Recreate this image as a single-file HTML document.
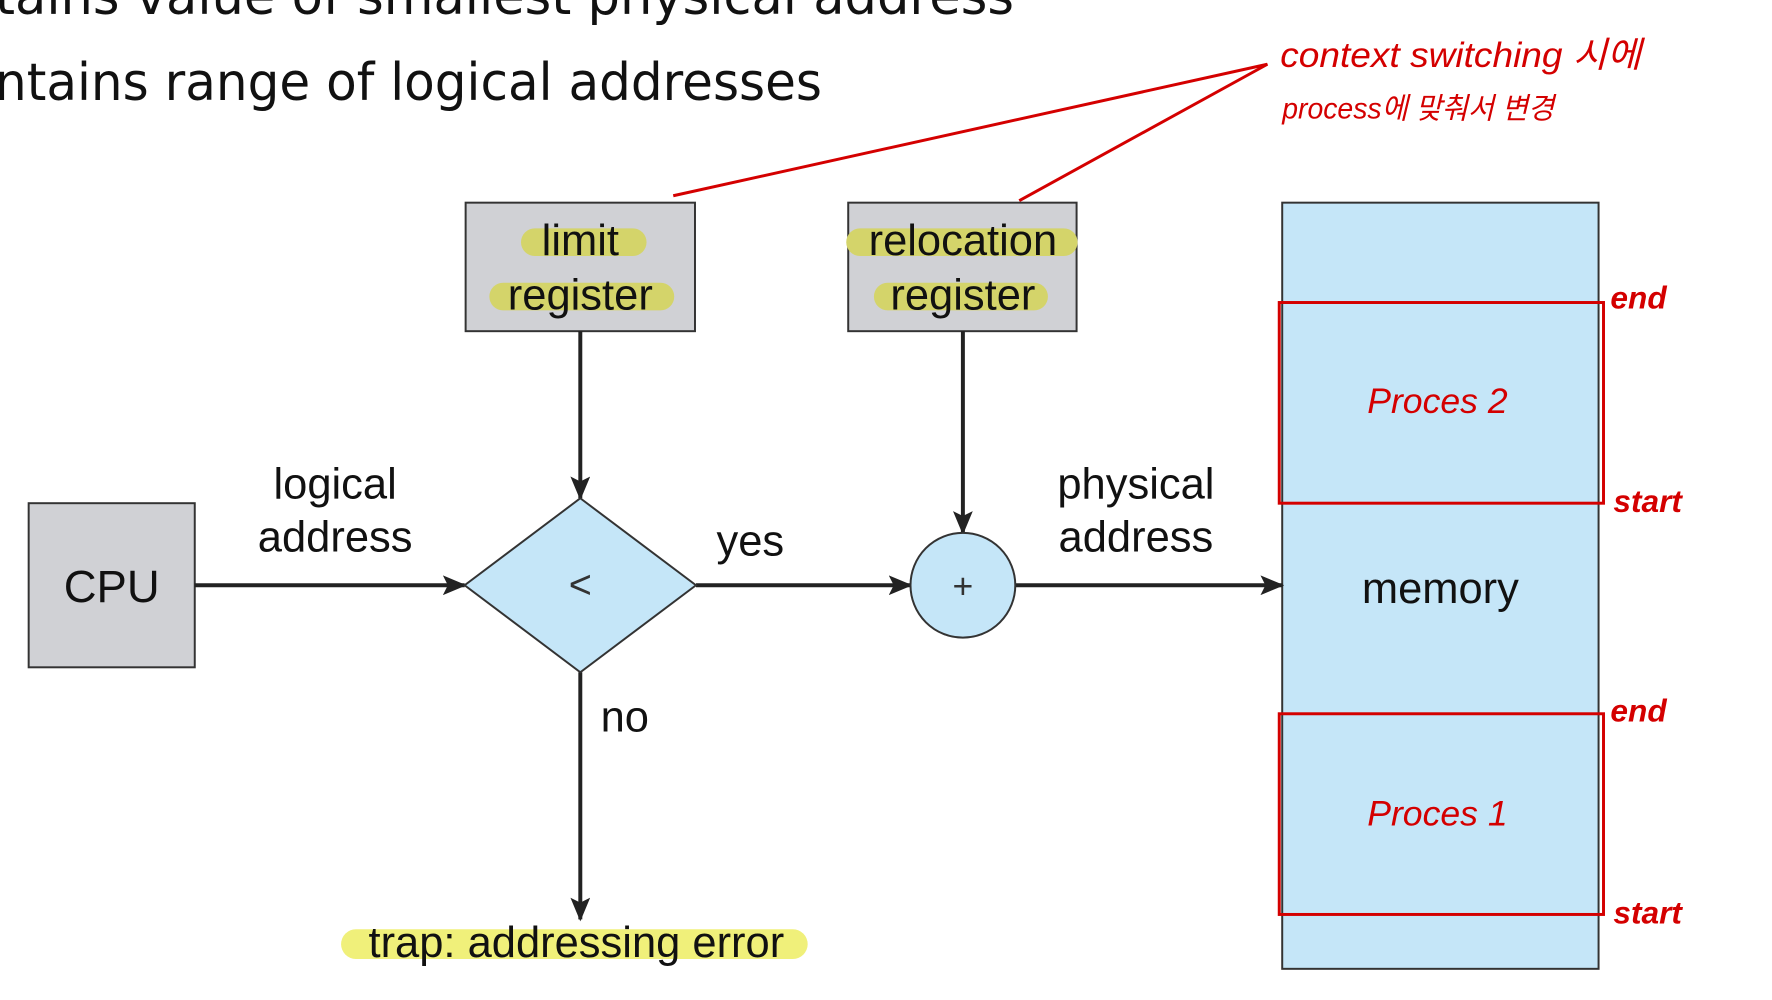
<!DOCTYPE html>
<html><head><meta charset="utf-8"><style>
html,body{margin:0;padding:0;background:#fff;}
svg{display:block}
</style></head><body>
<svg width="1772" height="1000" viewBox="0 0 1772 1000" xmlns="http://www.w3.org/2000/svg" font-family="Liberation Sans, sans-serif">
<defs>
<marker id="ah" markerWidth="24" markerHeight="20" refX="22" refY="10" orient="auto" markerUnits="userSpaceOnUse">
<path d="M0,0 L24,10 L0,20 L5,10 Z" fill="#222"/>
</marker>
</defs>
<!-- title text -->
<text x="-5" y="14" font-size="52" fill="#111" font-family="DejaVu Sans, sans-serif" textLength="1019" lengthAdjust="spacingAndGlyphs">tains value of smallest physical address</text>
<text x="-5" y="100" font-size="52" fill="#111" font-family="DejaVu Sans, sans-serif" textLength="827" lengthAdjust="spacingAndGlyphs">ntains range of logical addresses</text>

<g transform="scale(0.9886)">
<!-- red annotation lines -->
<polyline points="681,198 1282,65 1031,203" fill="none" stroke="#d40000" stroke-width="3"/>
<text x="1295" y="68" font-size="36" fill="#d40000" font-family="Liberation Sans, Noto Sans CJK KR, sans-serif" font-style="italic" textLength="365" lengthAdjust="spacingAndGlyphs">context switching 시에</text>
<text x="1297" y="120" font-size="30" fill="#d40000" font-family="Liberation Sans, Noto Sans CJK KR, sans-serif" font-style="italic" textLength="275" lengthAdjust="spacingAndGlyphs">process에 맞춰서 변경</text>

<!-- memory -->
<rect x="1297" y="205" width="320" height="775" fill="#c5e6f8" stroke="#333" stroke-width="2"/>
<text x="1457" y="610" font-size="44" text-anchor="middle" fill="#111">memory</text>
<rect x="1294" y="306" width="328" height="203" fill="none" stroke="#d40000" stroke-width="3"/>
<rect x="1294" y="722" width="328" height="203" fill="none" stroke="#d40000" stroke-width="3"/>
<text x="1383" y="418" font-size="36" fill="#d40000" font-style="italic">Proces 2</text>
<text x="1383" y="835" font-size="36" fill="#d40000" font-style="italic">Proces 1</text>
<g font-size="32" fill="#d40000" font-style="italic" font-weight="bold">
<text x="1629" y="312">end</text>
<text x="1632" y="518">start</text>
<text x="1629" y="730">end</text>
<text x="1632" y="934">start</text>
</g>

<!-- registers -->
<rect x="471" y="205" width="232" height="130" fill="#d0d1d5" stroke="#333" stroke-width="2"/>
<rect x="527" y="231" width="127" height="28" rx="14" fill="#d4d46a"/>
<rect x="495" y="286" width="187" height="28" rx="14" fill="#d4d46a"/>
<text x="587" y="258" font-size="44" text-anchor="middle" fill="#111">limit</text>
<text x="587" y="313" font-size="44" text-anchor="middle" fill="#111">register</text>

<rect x="858" y="205" width="231" height="130" fill="#d0d1d5" stroke="#333" stroke-width="2"/>
<rect x="856" y="231" width="234" height="28" rx="14" fill="#d4d46a"/>
<rect x="884" y="286" width="176" height="28" rx="14" fill="#d4d46a"/>
<text x="974" y="258" font-size="44" text-anchor="middle" fill="#111">relocation</text>
<text x="974" y="313" font-size="44" text-anchor="middle" fill="#111">register</text>

<!-- CPU -->
<rect x="29" y="509" width="168" height="166" fill="#d0d1d5" stroke="#333" stroke-width="2"/>
<text x="113" y="609" font-size="46" text-anchor="middle" fill="#111">CPU</text>

<!-- connectors -->
<g stroke="#222" stroke-width="4" fill="none">
<line x1="197" y1="592" x2="470" y2="592" marker-end="url(#ah)"/>
<line x1="704" y1="592" x2="921" y2="592" marker-end="url(#ah)"/>
<line x1="1027" y1="592" x2="1297" y2="592" marker-end="url(#ah)"/>
<line x1="587" y1="335" x2="587" y2="504" marker-end="url(#ah)"/>
<line x1="974" y1="335" x2="974" y2="539" marker-end="url(#ah)"/>
<line x1="587" y1="680" x2="587" y2="930" marker-end="url(#ah)"/>
</g>

<!-- diamond -->
<polygon points="587,504 704,592 587,680 470,592" fill="#c5e6f8" stroke="#333" stroke-width="2"/>
<text x="587" y="605" font-size="40" text-anchor="middle" fill="#333">&lt;</text>
<!-- circle -->
<circle cx="974" cy="592" r="53" fill="#c5e6f8" stroke="#333" stroke-width="2"/>
<text x="974" y="605" font-size="36" text-anchor="middle" fill="#333">+</text>

<!-- labels -->
<g font-size="44" text-anchor="middle" fill="#111">
<text x="339" y="504">logical</text>
<text x="339" y="558">address</text>
<text x="1149" y="504">physical</text>
<text x="1149" y="558">address</text>
<text x="759" y="562">yes</text>
<text x="632" y="740">no</text>
</g>
<rect x="345" y="940" width="472" height="30" rx="15" fill="#f0f07a"/>
<text x="583" y="968" font-size="44" text-anchor="middle" fill="#111">trap: addressing error</text>
</g>
</svg>
</body></html>
